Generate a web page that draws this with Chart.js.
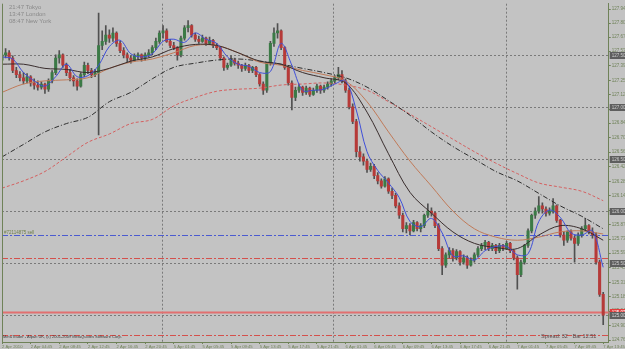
<!DOCTYPE html>
<html>
<head>
<meta charset="utf-8">
<script src="https://cdn.jsdelivr.net/npm/chart.js@4.4.1/dist/chart.umd.min.js"></script>
<style>
  html, body { margin: 0; padding: 0; background: #c3c3c3; overflow: hidden; }
  #wrap { width: 625px; height: 349px; }
</style>
</head>
<body>
<div id="wrap"><canvas id="myChart" width="625" height="349"></canvas></div>
<script>
// USDJPY-like M30 candles, 2 Apr - 7 Apr 2010
const opens = [
  127.45, 127.50, 127.52, 127.47, 127.35, 127.31, 127.28, 127.25, 127.29, 127.23,
  127.21, 127.19, 127.22, 127.17, 127.25, 127.33, 127.47, 127.50, 127.40, 127.33,
  127.28, 127.25, 127.20, 127.31, 127.40, 127.35, 127.31, 127.33, 127.59, 127.63,
  127.69, 127.66, 127.71, 127.61, 127.54, 127.50, 127.47, 127.45, 127.49, 127.50,
  127.47, 127.50, 127.52, 127.57, 127.63, 127.71, 127.73, 127.63, 127.59, 127.57,
  127.50, 127.66, 127.76, 127.78, 127.69, 127.65, 127.63, 127.66, 127.61, 127.64,
  127.59, 127.57, 127.47, 127.38, 127.40, 127.45, 127.42, 127.40, 127.37, 127.40,
  127.35, 127.38, 127.31, 127.22, 127.16, 127.42, 127.61, 127.71, 127.73, 127.57,
  127.38, 127.23, 127.09, 127.16, 127.19, 127.14, 127.18, 127.12, 127.16, 127.20,
  127.16, 127.19, 127.22, 127.25, 127.28, 127.31, 127.25, 127.16, 127.00, 126.86,
  126.57, 126.52, 126.48, 126.40, 126.43, 126.34, 126.29, 126.24, 126.31, 126.19,
  126.15, 126.05, 125.96, 125.83, 125.86, 125.81, 125.89, 125.83, 125.86, 125.96,
  126.00, 125.98, 125.86, 125.64, 125.48, 125.58, 125.62, 125.55, 125.61, 125.51,
  125.55, 125.48, 125.53, 125.58, 125.64, 125.67, 125.70, 125.64, 125.67, 125.62,
  125.67, 125.64, 125.69, 125.62, 125.55, 125.39, 125.51, 125.67, 125.81, 125.96,
  126.00, 126.05, 126.02, 125.98, 126.00, 126.05, 125.91, 125.77, 125.72, 125.80,
  125.74, 125.69, 125.77, 125.83, 125.86, 125.80, 125.77, 125.51, 125.20
];
const highs = [
  127.55, 127.56, 127.54, 127.49, 127.38, 127.34, 127.33, 127.32, 127.30, 127.27,
  127.25, 127.24, 127.23, 127.27, 127.35, 127.50, 127.54, 127.51, 127.42, 127.36,
  127.30, 127.27, 127.33, 127.43, 127.42, 127.37, 127.36, 127.90, 127.73, 127.78,
  127.74, 127.76, 127.72, 127.63, 127.57, 127.52, 127.49, 127.51, 127.52, 127.51,
  127.52, 127.55, 127.59, 127.66, 127.73, 127.78, 127.75, 127.65, 127.62, 127.58,
  127.68, 127.78, 127.83, 127.79, 127.71, 127.68, 127.69, 127.67, 127.67, 127.65,
  127.61, 127.58, 127.48, 127.42, 127.49, 127.47, 127.44, 127.41, 127.42, 127.41,
  127.39, 127.39, 127.32, 127.24, 127.43, 127.63, 127.76, 127.80, 127.74, 127.58,
  127.40, 127.25, 127.19, 127.22, 127.20, 127.20, 127.19, 127.18, 127.22, 127.21,
  127.21, 127.24, 127.27, 127.30, 127.38, 127.35, 127.27, 127.18, 127.03, 126.88,
  126.62, 126.55, 126.50, 126.46, 126.45, 126.37, 126.31, 126.33, 126.32, 126.22,
  126.17, 126.08, 125.98, 125.89, 125.88, 125.91, 125.90, 125.88, 125.97, 126.07,
  126.03, 125.99, 125.88, 125.66, 125.60, 125.65, 125.64, 125.63, 125.62, 125.58,
  125.57, 125.55, 125.60, 125.66, 125.69, 125.72, 125.71, 125.69, 125.68, 125.69,
  125.68, 125.71, 125.70, 125.63, 125.57, 125.53, 125.68, 125.83, 125.97, 126.03,
  126.14, 126.08, 126.04, 126.03, 126.12, 126.06, 125.92, 125.80, 125.81, 125.82,
  125.76, 125.79, 125.85, 125.93, 125.87, 125.84, 125.79, 125.53, 125.22
];
const lows = [
  127.43, 127.47, 127.45, 127.33, 127.28, 127.25, 127.22, 127.23, 127.20, 127.17,
  127.16, 127.17, 127.13, 127.15, 127.23, 127.31, 127.42, 127.38, 127.30, 127.25,
  127.20, 127.16, 127.19, 127.29, 127.32, 127.28, 127.29, 126.73, 127.55, 127.60,
  127.62, 127.63, 127.58, 127.52, 127.47, 127.43, 127.42, 127.44, 127.46, 127.44,
  127.45, 127.48, 127.50, 127.55, 127.61, 127.66, 127.62, 127.57, 127.55, 127.45,
  127.48, 127.64, 127.72, 127.67, 127.63, 127.61, 127.62, 127.59, 127.60, 127.57,
  127.55, 127.45, 127.35, 127.36, 127.39, 127.40, 127.37, 127.34, 127.35, 127.33,
  127.33, 127.29, 127.20, 127.12, 127.14, 127.40, 127.58, 127.66, 127.55, 127.36,
  127.21, 126.97, 127.06, 127.14, 127.11, 127.12, 127.10, 127.11, 127.14, 127.13,
  127.14, 127.17, 127.20, 127.23, 127.26, 127.23, 127.14, 126.98, 126.84, 126.52,
  126.48, 126.44, 126.37, 126.38, 126.31, 126.26, 126.22, 126.23, 126.17, 126.12,
  126.03, 125.93, 125.80, 125.79, 125.77, 125.80, 125.81, 125.80, 125.84, 125.94,
  125.95, 125.84, 125.62, 125.39, 125.46, 125.55, 125.52, 125.53, 125.48, 125.49,
  125.45, 125.47, 125.51, 125.56, 125.62, 125.63, 125.62, 125.62, 125.59, 125.60,
  125.62, 125.63, 125.60, 125.53, 125.25, 125.37, 125.49, 125.65, 125.79, 125.93,
  125.98, 125.98, 125.95, 125.96, 125.98, 125.89, 125.75, 125.67, 125.70, 125.72,
  125.51, 125.67, 125.75, 125.81, 125.78, 125.74, 125.49, 125.18, 124.91
];
const closes = [
  127.50, 127.52, 127.47, 127.35, 127.31, 127.28, 127.25, 127.29, 127.23, 127.21,
  127.19, 127.22, 127.17, 127.25, 127.33, 127.47, 127.50, 127.40, 127.33, 127.28,
  127.25, 127.20, 127.31, 127.40, 127.35, 127.31, 127.33, 127.59, 127.63, 127.69,
  127.66, 127.71, 127.61, 127.54, 127.50, 127.47, 127.45, 127.49, 127.50, 127.47,
  127.50, 127.52, 127.57, 127.63, 127.71, 127.73, 127.63, 127.59, 127.57, 127.50,
  127.66, 127.76, 127.78, 127.69, 127.65, 127.63, 127.66, 127.61, 127.64, 127.59,
  127.57, 127.47, 127.38, 127.40, 127.45, 127.42, 127.40, 127.37, 127.40, 127.35,
  127.38, 127.31, 127.22, 127.16, 127.42, 127.61, 127.71, 127.73, 127.57, 127.38,
  127.23, 127.09, 127.16, 127.19, 127.14, 127.18, 127.12, 127.16, 127.20, 127.16,
  127.19, 127.22, 127.25, 127.28, 127.31, 127.25, 127.16, 127.00, 126.86, 126.57,
  126.52, 126.48, 126.40, 126.43, 126.34, 126.29, 126.24, 126.31, 126.19, 126.15,
  126.05, 125.96, 125.83, 125.86, 125.81, 125.89, 125.83, 125.86, 125.96, 126.00,
  125.98, 125.86, 125.64, 125.48, 125.58, 125.62, 125.55, 125.61, 125.51, 125.55,
  125.48, 125.53, 125.58, 125.64, 125.67, 125.70, 125.64, 125.67, 125.62, 125.67,
  125.64, 125.69, 125.62, 125.55, 125.39, 125.51, 125.67, 125.81, 125.96, 126.00,
  126.05, 126.02, 125.98, 126.00, 126.05, 125.91, 125.77, 125.72, 125.80, 125.74,
  125.69, 125.77, 125.83, 125.86, 125.80, 125.77, 125.51, 125.20, 125.00
];

// fast MA (blue), sampled every 3 bars
const fastBars = [0, 3, 6, 9, 12, 15, 18, 21, 24, 27, 30, 33, 36, 39, 42, 45, 48, 51, 54, 57,
  60, 63, 66, 69, 72, 75, 78, 81, 84, 87, 90, 93, 96, 99, 102, 105, 108, 111, 114, 117,
  120, 123, 126, 129, 132, 135, 138, 141, 144, 147, 150, 153, 156, 159, 162, 165, 168];
const fastMA = [127.48, 127.46, 127.33, 127.25, 127.20, 127.29, 127.41, 127.29, 127.30, 127.40,
  127.58, 127.64, 127.51, 127.48, 127.51, 127.63, 127.65, 127.62, 127.71, 127.65,
  127.61, 127.48, 127.41, 127.39, 127.33, 127.34, 127.61, 127.40, 127.16, 127.16,
  127.17, 127.22, 127.25, 126.97, 126.57, 126.39, 126.27, 126.13, 125.90, 125.85,
  125.93, 125.79, 125.57, 125.57, 125.53, 125.62, 125.66, 125.66, 125.58, 125.59,
  125.90, 126.01, 125.94, 125.79, 125.77, 125.81, 125.46];

// slower MAs, sampled every 6 bars
const maBars = [0, 6, 12, 18, 24, 30, 36, 42, 48, 54, 60, 66, 72, 78, 84, 90, 96, 102, 108, 114,
  120, 126, 132, 138, 144, 150, 156, 162, 168];
const midMA = [127.41, 127.41, 127.37, 127.36, 127.33, 127.37, 127.44, 127.48, 127.56, 127.60,
  127.59, 127.52, 127.44, 127.41, 127.33, 127.28, 127.23, 126.95, 126.55, 126.18,
  125.98, 125.80, 125.69, 125.65, 125.64, 125.77, 125.86, 125.83, 125.72];
const slowMA = [127.14, 127.22, 127.25, 127.26, 127.28, 127.37, 127.43, 127.46, 127.52, 127.59,
  127.59, 127.52, 127.43, 127.40, 127.35, 127.31, 127.25, 127.05, 126.76, 126.48,
  126.24, 126.00, 125.83, 125.75, 125.72, 125.75, 125.80, 125.81, 125.78];
const ma100 = [126.52, 126.64, 126.76, 126.84, 126.90, 127.05, 127.14, 127.27, 127.38, 127.42,
  127.45, 127.46, 127.44, 127.41, 127.37, 127.33, 127.28, 127.19, 127.06, 126.92,
  126.76, 126.62, 126.50, 126.38, 126.29, 126.17, 126.05, 125.95, 125.83];
const ma200 = [126.22, 126.29, 126.38, 126.52, 126.66, 126.74, 126.84, 126.88, 127.01, 127.09,
  127.15, 127.17, 127.18, 127.21, 127.22, 127.23, 127.21, 127.16, 127.05, 126.93,
  126.81, 126.69, 126.57, 126.46, 126.36, 126.27, 126.23, 126.19, 126.10];

// axis ticks
const timeBars = [0, 8, 16, 24, 32, 40, 48, 56, 64, 72, 80, 88, 96, 104, 112, 120, 128, 136, 144, 152, 160, 168];
const timeLabels = ['2 Apr 2010', '2 Apr 04:45', '2 Apr 08:45', '2 Apr 12:45', '2 Apr 16:45', '2 Apr 20:45',
  '5 Apr 01:45', '5 Apr 05:45', '5 Apr 09:45', '5 Apr 13:45', '5 Apr 17:45', '5 Apr 21:45',
  '6 Apr 01:45', '6 Apr 05:45', '6 Apr 09:45', '6 Apr 13:45', '6 Apr 17:45', '6 Apr 21:45',
  '7 Apr 01:45', '7 Apr 05:45', '7 Apr 09:45', '7 Apr 13:45'];
const priceTicks = [127.940, 127.805, 127.670, 127.535, 127.395, 127.255, 127.120, 126.980,
  126.845, 126.705, 126.565, 126.425, 126.285, 126.145, 126.005, 125.870, 125.730, 125.595,
  125.455, 125.315, 125.180, 125.040, 124.900, 124.760];

// horizontal levels and day separators
const roundLevels = [127.5, 127.0, 126.5, 126.0, 125.5, 125.0];
const bidPrice = 125.000;
const askPrice = 125.032;
const sellOrder = 125.767;
const redLevels = [125.55, 124.81];
const daySeparators = [44.7, 92.5, 140.8];

const axisColor = '#6f8258';
const font = '"Liberation Sans", Arial, sans-serif';
const bars = opens.map((o, i) => i);

const mtPlugin = {
  id: 'mt4',
  beforeDraw(chart) {
    const ctx = chart.ctx;
    ctx.save();
    ctx.fillStyle = '#c3c3c3';
    ctx.fillRect(0, 0, chart.width, chart.height);
    ctx.restore();
  },
  beforeDatasetsDraw(chart) {
    const {ctx, chartArea: a, scales: {x, y}} = chart;
    ctx.save();
    ctx.lineWidth = 1;
    const hline = (v, color, dash, w) => {
      const py = Math.round(y.getPixelForValue(v)) + 0.5;
      ctx.strokeStyle = color;
      ctx.lineWidth = w || 1;
      ctx.setLineDash(dash);
      ctx.beginPath();
      ctx.moveTo(a.left, py);
      ctx.lineTo(a.right, py);
      ctx.stroke();
    };
    roundLevels.forEach(v => hline(v, '#7a7a7a', [2, 2]));
    ctx.strokeStyle = '#7a7a7a';
    ctx.setLineDash([2, 2]);
    daySeparators.forEach(b => {
      const px = Math.round(x.getPixelForValue(b)) + 0.5;
      ctx.beginPath();
      ctx.moveTo(px, a.top);
      ctx.lineTo(px, a.bottom);
      ctx.stroke();
    });
    hline(sellOrder, '#4b5bd0', [6, 2, 2, 2]);
    redLevels.forEach(v => hline(v, '#d4504c', [6, 2, 2, 2]));
    hline(askPrice, '#e27070', [], 2);
    ctx.restore();
  },
  afterDraw(chart) {
    const {ctx, chartArea: a, scales: {y}} = chart;
    ctx.save();
    // chart frame (left edge)
    ctx.strokeStyle = axisColor;
    ctx.lineWidth = 1;
    ctx.beginPath();
    ctx.moveTo(a.left + 0.5, a.top);
    ctx.lineTo(a.left + 0.5, a.bottom);
    ctx.stroke();

    // price boxes on the right axis
    const box = (v, bg, fg) => {
      const py = y.getPixelForValue(v);
      ctx.fillStyle = bg;
      ctx.fillRect(a.right + 1, Math.round(py) - 3, chart.width - a.right - 1, 7);
      ctx.fillStyle = fg;
      ctx.font = '4.5px ' + font;
      ctx.textBaseline = 'middle';
      ctx.textAlign = 'left';
      ctx.fillText(v.toFixed(3), a.right + 3, Math.round(py) + 0.5);
    };
    roundLevels.forEach(v => box(v, '#5e5e5e', '#cfcfcf'));
    box(askPrice, '#e03c3c', '#ffffff');
    box(bidPrice, '#5e5e5e', '#d8d8d8');

    ctx.textAlign = 'left';
    ctx.textBaseline = 'middle';
    // session clocks
    ctx.fillStyle = '#8a8a8a';
    ctx.font = '6px ' + font;
    ['21:47 Tokyo', '13:47 London', '08:47 New York'].forEach((t, i) => ctx.fillText(t, 9, 7 + i * 7));
    // order label
    ctx.fillStyle = '#6f7f4a';
    ctx.font = '4.5px ' + font;
    ctx.fillText('#72114875 sell', 4, Math.round(y.getPixelForValue(sellOrder)) - 2.5);
    // footer texts
    ctx.fillStyle = '#3e3e3e';
    ctx.font = '4px ' + font;
    ctx.fillText('MetaTrader - Alpari UK, (c) 2001-2009 MetaQuotes Software Corp.', 3, 337);
    ctx.fillStyle = '#5a4a4a';
    ctx.font = '5.5px ' + font;
    ctx.fillText('Spread: 32   Bar 12:51', 541, 336);
    ctx.restore();
  }
};

const ctx = document.getElementById('myChart').getContext('2d');
const maLine = (label, xs, ys, color, dash, extra) => Object.assign({
  type: 'line',
  label: label,
  data: xs.map((b, i) => ({x: b, y: ys[i]})),
  borderColor: color,
  borderWidth: 1,
  borderDash: dash,
  pointRadius: 0,
  tension: 0.35,
  order: 0
}, extra || {});

window.myChart = new Chart(ctx, {
  type: 'bar',
  data: {
    datasets: [
      maLine('MA fast', fastBars, fastMA, '#3f4fd8', []),
      maLine('MA mid', maBars, midMA, '#3a2e2e', []),
      maLine('MA slow', maBars, slowMA, '#c07a58', []),
      maLine('MA 100', maBars, ma100, '#2e2e2e', [5, 2, 1, 2]),
      maLine('MA 200', maBars, ma200, '#d46060', [3, 2]),
      {
        label: 'bodies',
        data: bars.map(i => ({x: i, y: [Math.min(opens[i], closes[i]), Math.max(opens[i], closes[i])]})),
        backgroundColor: bars.map(i => closes[i] >= opens[i] ? '#3b7a46' : '#b63a38'),
        barThickness: 2.4,
        minBarLength: 1,
        grouped: false,
        order: 1
      },
      {
        label: 'wicks',
        data: bars.map(i => ({x: i, y: [lows[i], highs[i]]})),
        backgroundColor: '#505050',
        barThickness: 1,
        grouped: false,
        order: 2
      }
    ]
  },
  options: {
    responsive: false,
    animation: false,
    devicePixelRatio: 1,
    layout: { padding: { left: 2, top: 0, right: 0, bottom: 0 } },
    plugins: { legend: { display: false }, tooltip: { enabled: false } },
    scales: {
      x: {
        type: 'linear',
        min: 0,
        max: 169.55,
        offset: false,
        afterBuildTicks: s => { s.ticks = timeBars.map(v => ({value: v})); },
        afterFit: s => { s.height = 7; },
        ticks: {
          autoSkip: false,
          maxRotation: 0,
          align: 'start',
          padding: 0,
          color: axisColor,
          font: { size: 4.2, family: font },
          callback: (v, i) => timeLabels[i]
        },
        grid: { drawOnChartArea: false, offset: false, tickLength: 2, color: axisColor },
        border: { color: axisColor }
      },
      y: {
        position: 'right',
        min: 124.743,
        max: 127.991,
        afterBuildTicks: s => { s.ticks = priceTicks.map(v => ({value: v})); },
        afterFit: s => { s.width = 16; },
        ticks: {
          autoSkip: false,
          padding: 1,
          color: axisColor,
          font: { size: 4.5, family: font },
          callback: v => v.toFixed(3)
        },
        grid: { drawOnChartArea: false, tickLength: 2, color: axisColor },
        border: { color: axisColor }
      }
    }
  },
  plugins: [mtPlugin]
});
</script>
</body>
</html>
